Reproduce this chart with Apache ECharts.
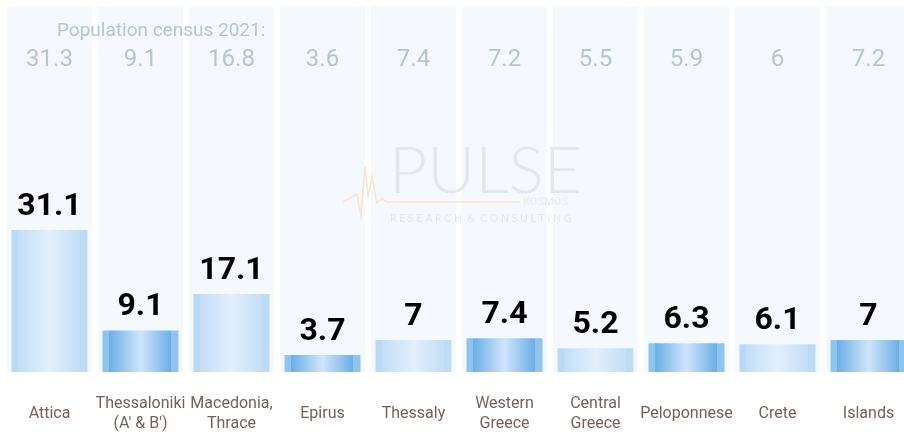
<!DOCTYPE html>
<html>
<head>
<meta charset="utf-8">
<script src="https://cdn.jsdelivr.net/npm/echarts@6/dist/echarts.min.js"></script>
<style>
  html, body { margin: 0; padding: 0; background: #fff; }
  #chart { width: 904px; height: 437px; }
</style>
</head>
<body>
<div id="chart"></div>
<script>
const regions = ['Attica', "Thessaloniki\n(A' & B')", 'Macedonia,\nThrace', 'Epirus', 'Thessaly', 'Western\nGreece', 'Central\nGreece', 'Peloponnese', 'Crete', 'Islands'];
const sharePct = [31.1, 9.1, 17.1, 3.7, 7, 7.4, 5.2, 6.3, 6.1, 7];
const census2021 = [31.3, 9.1, 16.8, 3.6, 7.4, 7.2, 5.5, 5.9, 6, 7.2];
const axisMax = 80;

const chart = echarts.init(document.getElementById('chart'));

// light and dark striped gradients, alternating per column
const paleFill = new echarts.graphic.LinearGradient(0, 0, 1, 0, [
    { offset: 0, color: '#b9d9f4' }, { offset: 0.09, color: '#b9d9f4' },
    { offset: 0.09, color: '#c3def6' }, { offset: 0.5, color: '#e2effc' },
    { offset: 0.9, color: '#c3def6' }, { offset: 0.9, color: '#bcdbf5' },
    { offset: 1, color: '#bcdbf5' }
]);
const darkFill = new echarts.graphic.LinearGradient(0, 0, 1, 0, [
    { offset: 0, color: '#8fc4ef' }, { offset: 0.09, color: '#8fc4ef' },
    { offset: 0.09, color: '#6cafe6' }, { offset: 0.5, color: '#cfe5fb' },
    { offset: 0.9, color: '#6cafe6' }, { offset: 0.9, color: '#8fc4ef' },
    { offset: 1, color: '#8fc4ef' }
]);

chart.setOption({
    animation: false,
    title: {
        text: 'Population census 2021:',
        left: 52, top: 17,
        textStyle: { fontFamily: 'Roboto', fontSize: 19, fontWeight: 400, color: '#b9c5cd' }
    },
    grid: { left: 4, width: 910, top: 7, bottom: 65, outerBoundsMode: 'none' },
    xAxis: [
        {
            type: 'category', data: regions,
            axisLine: { show: false }, axisTick: { show: false },
            axisLabel: {
                interval: 0, margin: 42, verticalAlign: 'middle',
                fontFamily: 'Roboto', fontSize: 16, lineHeight: 20, color: '#7b5e57'
            }
        },
        { type: 'category', data: regions, show: false }
    ],
    yAxis: { type: 'value', min: 0, max: axisMax, show: false },
    graphic: [
        {
            type: 'polyline', silent: true, z: 100,
            shape: { points: [[343, 202], [357, 194], [361, 216], [365, 166], [368, 197], [372, 177], [377, 203], [382, 198], [386, 202], [520, 202]] },
            style: { stroke: '#f6e6cc', lineWidth: 1.5, fill: null }
        },
        {
            type: 'text', left: 389, top: 139, silent: true, z: 100,
            style: { text: 'PULSE', font: '300 66px Lato', fill: '#e4e7e9' }
        },
        {
            type: 'text', left: 523, top: 197, silent: true, z: 100,
            style: { text: 'KOSMOS', font: 'bold 11px Roboto', fill: '#eceef0' }
        },
        {
            type: 'text', left: 390, top: 213, silent: true, z: 100,
            style: { text: 'R E S E A R C H  &  C O N S U L T I N G', font: '10.5px Lato', fill: '#e4e7e9' }
        }
    ],
    series: [
        {
            type: 'bar', xAxisIndex: 1, barWidth: 85, silent: true, z: 1,
            data: census2021.map(() => axisMax),
            itemStyle: { color: '#f5f9fd' },
            label: {
                show: true, position: 'insideTop', distance: 41,
                formatter: (p) => String(census2021[p.dataIndex]),
                fontFamily: 'Roboto', fontSize: 24, fontWeight: 400, color: '#b9c5cd'
            }
        },
        {
            type: 'bar', xAxisIndex: 0, barWidth: 76, z: 3,
            data: sharePct.map((v, i) => ({ value: v, itemStyle: { color: i % 2 === 0 ? paleFill : darkFill } })),
            label: {
                show: true, position: 'top', distance: 7,
                fontFamily: 'Roboto', fontSize: 32, fontWeight: 'bold', color: '#000'
            }
        }
    ]
});
</script>
</body>
</html>
